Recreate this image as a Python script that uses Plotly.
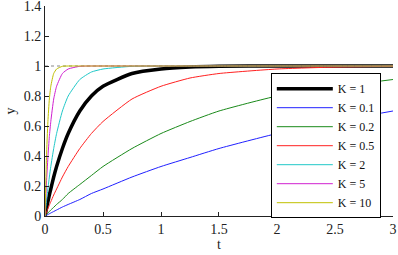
import plotly.graph_objects as go

t = [0, 0.0125, 0.025, 0.0375, 0.05, 0.075, 0.1, 0.15, 0.2, 0.3, 0.4, 0.5,
     0.75, 1, 1.25, 1.5, 2, 2.5, 3]

y_k1 = [0, .049, .095, .14, .18, .26, .33, .45, .55, .70, .80, .865, .95, .98, .993, .998, 1, 1, 1]
y_k01 = [0, .005, .01, .015, .02, .03, .04, .06, .077, .11, .15, .18, .26, .33, .39, .45, .55, .63, .70]
y_k02 = [0, .01, .02, .03, .04, .058, .077, .11, .15, .21, .27, .33, .45, .55, .63, .70, .80, .86, .91]
y_k05 = [0, .025, .049, .072, .095, .14, .18, .26, .33, .45, .55, .63, .78, .865, .92, .95, .98, .993, .998]
y_k2 = [0, .095, .18, .26, .33, .45, .55, .70, .80, .91, .96, .98, .998, 1, 1, 1, 1, 1, 1]
y_k5 = [0, .22, .39, .53, .63, .78, .865, .95, .98, .998, 1, 1, 1, 1, 1, 1, 1, 1, 1]
y_k10 = [0, .39, .63, .78, .865, .95, .98, .998, 1, 1, 1, 1, 1, 1, 1, 1, 1, 1, 1]

series_names = ["K = 1", "K = 0.1", "K = 0.2", "K = 0.5", "K = 2", "K = 5", "K = 10"]
series_values = [y_k1, y_k01, y_k02, y_k05, y_k2, y_k5, y_k10]
colors = ["#000000", "#2020ff", "#1a8a1a", "#ff2020", "#20c8c8", "#d020d0", "#c0c000"]
widths = [3.5, 1, 1, 1, 1, 1, 1]

x_ticks = [0, 0.5, 1, 1.5, 2, 2.5, 3]
x_tick_labels = ["0", "0.5", "1", "1.5", "2", "2.5", "3"]
y_ticks = [0, 0.2, 0.4, 0.6, 0.8, 1, 1.2, 1.4]
y_tick_labels = ["0", "0.2", "0.4", "0.6", "0.8", "1", "1.2", "1.4"]
reference_level = 1

fig = go.Figure()
for name, vals, c, w in zip(series_names, series_values, colors, widths):
    fig.add_trace(go.Scatter(x=t, y=vals, mode="lines", name=name,
                             line=dict(color=c, width=w, shape="spline", smoothing=0.5)))

fig.add_hline(y=reference_level, line=dict(color="#888", width=1, dash="dot"), layer="below")

serif = "Liberation Serif"
fig.update_layout(
    width=398, height=255,
    margin=dict(l=45, r=5, t=6, b=39, autoexpand=False),
    paper_bgcolor="white", plot_bgcolor="white",
    font=dict(family=serif, size=14, color="#222"),
    showlegend=True,
    legend=dict(x=0.965, y=0.68, xanchor="right", yanchor="top",
                bgcolor="white", bordercolor="black", borderwidth=1,
                font=dict(family=serif, size=12, color="#111"),
                tracegroupgap=0, itemwidth=56),
)
fig.update_xaxes(range=[0, 3.0001], tickvals=x_ticks, ticktext=x_tick_labels,
                 showgrid=False, zeroline=False, showline=True, linecolor="#222",
                 linewidth=1, ticks="inside", ticklen=4, tickcolor="#222",
                 automargin=False, ticklabeloverflow="allow",
                 tickfont=dict(family=serif, size=14),
                 title=dict(text="t", standoff=2, font=dict(family=serif, size=14)))
fig.update_yaxes(range=[0, 1.4001], tickvals=y_ticks, ticktext=y_tick_labels,
                 showgrid=False, zeroline=False, showline=True, linecolor="#222",
                 linewidth=1, ticks="inside", ticklen=4, tickcolor="#222",
                 automargin=False, ticklabeloverflow="allow",
                 tickfont=dict(family=serif, size=14),
                 title=dict(text="y", standoff=4, font=dict(family=serif, size=14)))

fig.write_html("out.html", config={"displayModeBar": False},
               post_script="document.body.style.margin='0';document.body.style.padding='0';")
